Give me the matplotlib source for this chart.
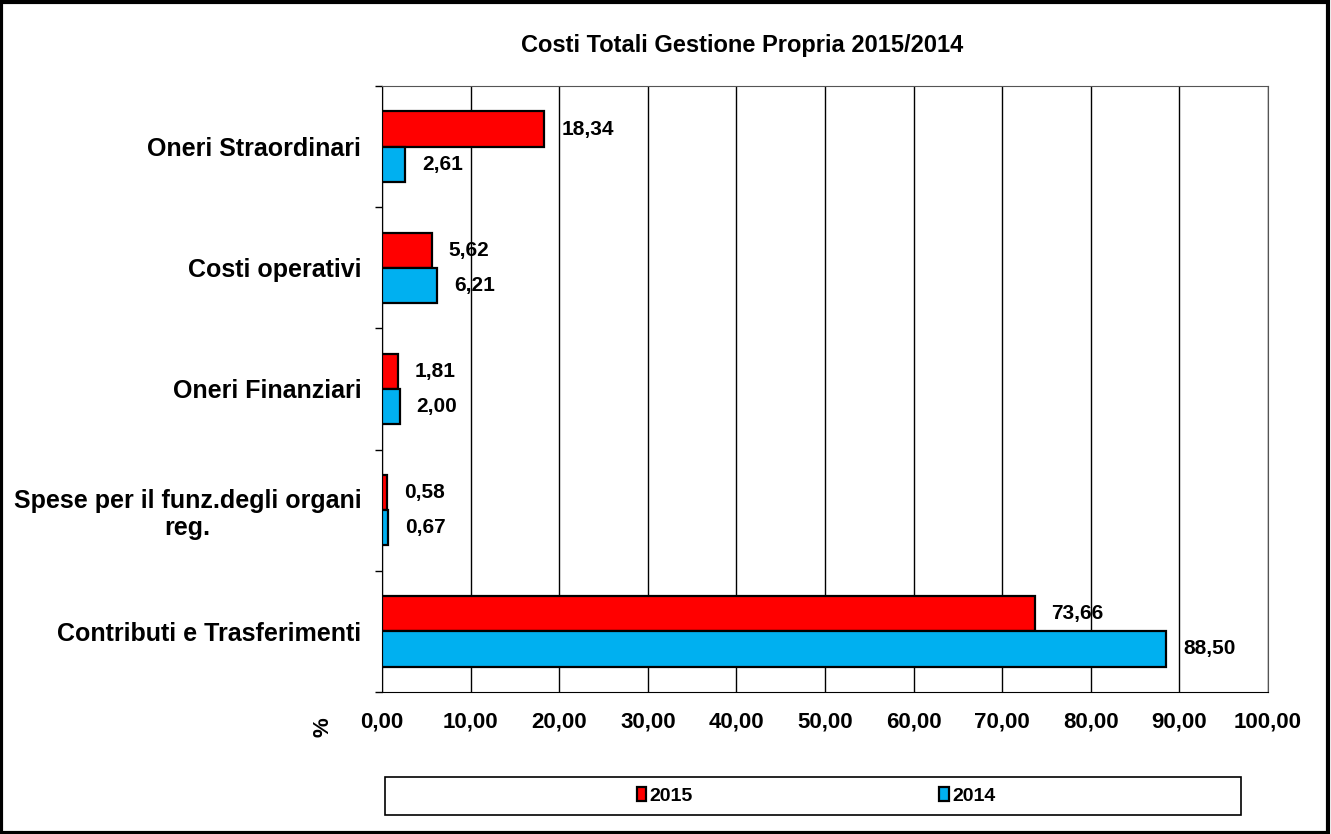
import numpy as np
import matplotlib.pyplot as plt
from matplotlib.patches import Rectangle

plt.rcParams['font.family'] = ['Liberation Sans', 'DejaVu Sans']
plt.rcParams['font.weight'] = 'bold'

# data (top to bottom in the chart)
categories = ["Oneri Straordinari", "Costi operativi", "Oneri Finanziari",
              "Spese per il funz.degli organi\nreg.", "Contributi e Trasferimenti"]
val_2015 = [18.34, 5.62, 1.81, 0.58, 73.66]
val_2014 = [2.61, 6.21, 2.00, 0.67, 88.50]
xticks = np.arange(0, 101, 10)

fig = plt.figure(figsize=(13.31, 8.34), dpi=100)
ax = fig.add_axes([0.287, 0.1703, 0.6657, 0.7266])

y = np.arange(len(categories))
h = 0.29
ax.barh(y - h / 2, val_2015, height=h, color='#FF0000', edgecolor='black', linewidth=1.6, label='2015', zorder=3)
ax.barh(y + h / 2, val_2014, height=h, color='#00B0F0', edgecolor='black', linewidth=1.6, label='2014', zorder=3)

for yi, v in zip(y, val_2015):
    ax.text(v + 1.9, yi - h / 2, f"{v:.2f}".replace('.', ','), va='center', ha='left',
            fontsize=15, fontweight='bold')
for yi, v in zip(y, val_2014):
    ax.text(v + 1.9, yi + h / 2, f"{v:.2f}".replace('.', ','), va='center', ha='left',
            fontsize=15, fontweight='bold')

ax.set_ylim(len(categories) - 0.5, -0.5)
ax.set_xlim(0, 100)
ax.set_xticks(xticks)
ax.set_xticklabels([f"{t:.2f}".replace('.', ',') for t in xticks], fontsize=16, fontweight='bold')
ax.tick_params(axis='x', length=0, pad=14)

# category ticks sit at the boundaries, labels at centers
ax.set_yticks(np.arange(-0.5, len(categories), 1.0))
ax.set_yticklabels([])
ax.set_yticks(y, minor=True)
ax.set_yticklabels(categories, minor=True, fontsize=18, fontweight='bold', multialignment='center')
ax.tick_params(axis='y', which='major', direction='out', length=5, width=1)
ax.tick_params(axis='y', which='minor', length=0, pad=15)

ax.grid(axis='x', color='black', linewidth=1, zorder=0)
for side in ['top', 'right']:
    ax.spines[side].set_color('#555555')
for side in ['left', 'bottom']:
    ax.spines[side].set_color('black')

fig.text(0.2425, 0.128, '%', rotation=90, fontsize=16, fontweight='bold', ha='center', va='center')

fig.text(0.5575, 0.946, 'Costi Totali Gestione Propria 2015/2014', ha='center', va='center',
         fontsize=17, fontweight='bold')

# legend box at bottom
fig.patches.append(Rectangle((385 / 1331, 1 - 815 / 834), 856 / 1331, 38 / 834,
                             transform=fig.transFigure, fill=False, edgecolor='black', linewidth=1.2))
leg = fig.legend(loc='center', bbox_to_anchor=(816 / 1331, 1 - 796 / 834), ncol=2, frameon=False,
                 fontsize=14, handlelength=0.5, handleheight=0.7, handletextpad=0.15,
                 columnspacing=12.7)
for t in leg.get_texts():
    t.set_fontweight('bold')

# outer border
fig.patches.append(Rectangle((0.001, 0.001), 0.997, 0.997, transform=fig.transFigure,
                             fill=False, edgecolor='black', linewidth=3))

fig.savefig('out.png', dpi=100)
